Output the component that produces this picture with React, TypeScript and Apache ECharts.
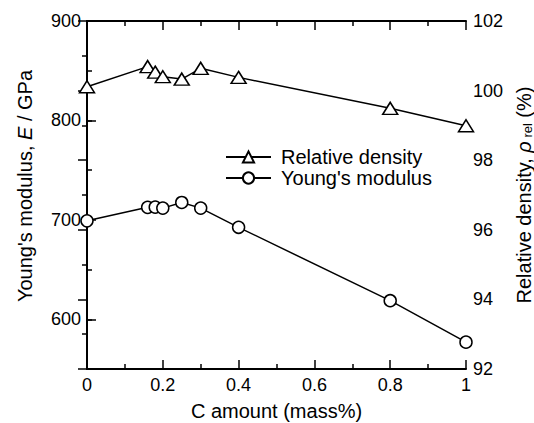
import React, { useEffect, useRef } from "react";
import * as echarts from "echarts";

const carbon = [0, 0.16, 0.18, 0.2, 0.25, 0.3, 0.4, 0.8, 1.0];
const relativeDensity = [100.11, 100.69, 100.53, 100.4, 100.33, 100.64, 100.38, 99.49, 98.99];
const youngsModulus = [699, 712.6, 712.8, 711.8, 717.5, 711.8, 692.5, 618.7, 577];
const leftMajorTicks = ["550", "600", "650", "700", "750", "800", "850", "900"];

const FONT = "'Liberation Sans', Arial, Helvetica, sans-serif";

export default function App() {
  const ref = useRef<HTMLDivElement>(null);
  useEffect(() => {
    if (!ref.current) return;
    const chart = echarts.init(ref.current, null, { renderer: "svg" });
    const axisLine = { show: true, lineStyle: { color: "#000", width: 2 } };
    const label = { color: "#000", fontFamily: FONT, fontSize: 18 };
    chart.setOption({
      animation: false,
      backgroundColor: "#fff",
      textStyle: { fontFamily: FONT, color: "#000" },
      grid: { left: 87, right: 68, top: 21, bottom: 54, containLabel: false, outerBoundsMode: "none" },
      legend: {
        orient: "vertical",
        left: 225,
        top: 147,
        itemWidth: 45,
        itemHeight: 14,
        itemGap: 1,
        padding: 0,
        data: ["Relative density", "Young's modulus"],
        textStyle: { color: "#000", fontFamily: FONT, fontSize: 20, padding: [0, 0, 0, 5] },
      },
      xAxis: [
        {
          type: "value",
          position: "bottom",
          min: 0,
          max: 1,
          interval: 0.2,
          name: "C amount (mass%)",
          nameLocation: "middle",
          nameGap: 32,
          nameTextStyle: { color: "#000", fontFamily: FONT, fontSize: 20 },
          axisLine,
          axisTick: { show: true, inside: true, length: 9, lineStyle: { color: "#000", width: 1.5 } },
          minorTick: { show: true, splitNumber: 2, length: 5, lineStyle: { color: "#000", width: 1.5 } },
          splitLine: { show: false },
          axisLabel: { ...label, margin: 7 },
        },
        {
          type: "value",
          position: "top",
          min: 0,
          max: 1,
          interval: 0.2,
          axisLine,
          axisTick: { show: true, inside: true, length: 9, lineStyle: { color: "#000", width: 1.5 } },
          minorTick: { show: true, splitNumber: 2, length: 5, lineStyle: { color: "#000", width: 1.5 } },
          splitLine: { show: false },
          axisLabel: { show: false },
        },
      ],
      yAxis: [
        {
          type: "value",
          position: "left",
          min: 550,
          max: 900,
          interval: 50,
          name: "Young's modulus, {i|E} / GPa",
          nameLocation: "middle",
          nameRotate: 90,
          nameGap: 52,
          nameTextStyle: {
            color: "#000",
            fontFamily: FONT,
            fontSize: 20,
            padding: [0, 0, 0, 18],
            rich: { i: { fontStyle: "italic", fontFamily: FONT, fontSize: 20, color: "#000" } },
          },
          axisLine,
          axisTick: { show: true, inside: true, length: 5, lineStyle: { color: "#000", width: 1.5 } },
          splitLine: { show: false },
          axisLabel: {
            ...label,
            margin: 6,
            formatter: (v: number) => (Math.round(v) % 100 === 0 ? String(Math.round(v)) : ""),
          },
        },
        {
          type: "value",
          position: "right",
          min: 92,
          max: 102,
          interval: 2,
          name: "Relative density, {i|ρ}{sub| rel} (%)",
          nameLocation: "middle",
          nameRotate: 90,
          nameGap: 42,
          nameTextStyle: {
            color: "#000",
            fontFamily: FONT,
            fontSize: 20,
            rich: {
              i: { fontStyle: "italic", fontFamily: FONT, fontSize: 20, color: "#000" },
              sub: { fontFamily: FONT, fontSize: 13, color: "#000", verticalAlign: "bottom", padding: [8, 0, 0, 0] },
            },
          },
          axisLine,
          axisTick: { show: true, inside: true, length: 9, lineStyle: { color: "#000", width: 1.5 } },
          minorTick: { show: true, splitNumber: 2, length: 5, lineStyle: { color: "#000", width: 1.5 } },
          splitLine: { show: false },
          axisLabel: { ...label, margin: 7 },
        },
        {
          type: "category",
          position: "left",
          boundaryGap: false,
          data: leftMajorTicks,
          axisLine: { show: false },
          axisLabel: { show: false },
          splitLine: { show: false },
          axisTick: {
            show: true,
            inside: true,
            length: 9,
            interval: (i: number) => i % 2 === 1,
            lineStyle: { color: "#000", width: 1.5 },
          },
        },
      ],
      series: [
        {
          name: "Relative density",
          type: "line",
          xAxisIndex: 0,
          yAxisIndex: 1,
          data: carbon.map((c, i) => [c, relativeDensity[i]]),
          symbol: "triangle",
          symbolSize: [15, 12],
          showAllSymbol: true,
          clip: false,
          itemStyle: { color: "#fff", borderColor: "#000", borderWidth: 1.5 },
          lineStyle: { color: "#000", width: 1.5 },
          z: 3,
        },
        {
          name: "Young's modulus",
          type: "line",
          xAxisIndex: 0,
          yAxisIndex: 0,
          data: carbon.map((c, i) => [c, youngsModulus[i]]),
          symbol: "circle",
          symbolSize: 12,
          showAllSymbol: true,
          clip: false,
          itemStyle: { color: "#fff", borderColor: "#000", borderWidth: 1.5 },
          lineStyle: { color: "#000", width: 1.5 },
          z: 3,
        },
      ],
    });
    return () => chart.dispose();
  }, []);
  return <div ref={ref} style={{ width: 534, height: 423, position: "fixed", left: 0, top: 0 }} />;
}
